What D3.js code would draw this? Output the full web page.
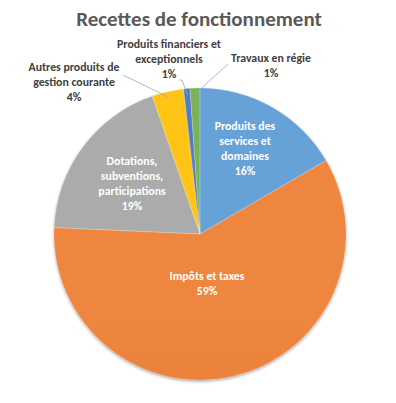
<!DOCTYPE html>
<html>
<head>
<meta charset="utf-8">
<script src="https://cdn.jsdelivr.net/npm/d3@7"></script>
<style>
  body { margin: 0; background: #fff; }
  svg { display: block; }
  text { font-family: Carlito, Lato, "Liberation Sans", sans-serif; }
</style>
</head>
<body>
<div id="chart"></div>
<script>
// DATA
var categories = ['Produits des services et domaines', 'Impôts et taxes', 'Dotations, subventions, participations',
	'Autres produits de gestion courante', 'Produits financiers et exceptionnels', 'Travaux en régie'];
var values = [16.6, 59.1, 19.0, 3.5, 0.7, 1.1];
var pctLabels = ['16%', '59%', '19%', '4%', '1%', '1%'];
// label lines (how the text wraps)
var labelLines = [
	['Produits des', 'services et', 'domaines'],
	['Impôts et taxes'],
	['Dotations,', 'subventions,', 'participations'],
	['Autres produits de', 'gestion courante'],
	['Produits financiers et', 'exceptionnels'],
	['Travaux en régie']
];
var colors = ['#5B9BD5', '#ED7D31', '#A5A5A5', '#FFC000', '#4472C4', '#70AD47'];

// BOUNDS
var width = 396, height = 403;
var cx = 200, cy = 234, radius = 146;

var svg = d3.select('#chart').append('svg')
	.attr('width', width)
	.attr('height', height);

var defs = svg.append('defs');

// shadow
var shadow = defs.append('filter').attr('id', 'shadow')
	.attr('x', '-10%').attr('y', '-10%').attr('width', '120%').attr('height', '120%');
shadow.append('feDropShadow')
	.attr('dx', 0).attr('dy', 1.5)
	.attr('stdDeviation', 1.8)
	.attr('flood-color', '#000')
	.attr('flood-opacity', 0.35);

// gradient per slice (a bit lighter top, darker bottom)
colors.forEach(function(c, i) {
	var g = defs.append('linearGradient').attr('id', 'grad' + i)
		.attr('gradientUnits', 'userSpaceOnUse')
		.attr('x1', 0).attr('y1', cy - radius).attr('x2', 0).attr('y2', cy + radius);
	g.append('stop').attr('offset', '0%').attr('stop-color', d3.interpolateRgb(c, '#fff')(0.07));
	g.append('stop').attr('offset', '100%').attr('stop-color', d3.interpolateRgb(c, '#000')(0.07));
});

// TITLE
svg.append('text')
	.attr('x', 199)
	.attr('y', 26)
	.attr('text-anchor', 'middle')
	.style('font-size', '21px')
	.style('font-weight', 'bold')
	.style('fill', '#595959')
	.text('Recettes de fonctionnement');

var pie = d3.pie().sort(null).value(function(d) { return d; });
var arc = d3.arc().innerRadius(0).outerRadius(radius);
var arcs = pie(values);

var pieG = svg.append('g')
	.attr('transform', 'translate(' + cx + ',' + cy + ')');

pieG.append('g')
	.attr('filter', 'url(#shadow)')
	.selectAll('path')
	.data(arcs)
	.enter().append('path')
	.attr('d', arc)
	.attr('fill', function(d, i) { return 'url(#grad' + i + ')'; });

// thin white separators
pieG.append('g').selectAll('path')
	.data(arcs)
	.enter().append('path')
	.attr('d', arc)
	.attr('fill', 'none')
	.attr('stroke', 'rgba(255,255,255,0.35)')
	.attr('stroke-width', 0.5);

// LABELS (positions relative to the pie centre)
var labelPos = [
	{x: 45, y: -104, inside: true},
	{x: 7, y: 46, inside: true},
	{x: -68, y: -69, inside: true},
	{x: -126, y: -163, inside: false},
	{x: -31, y: -186, inside: false},
	{x: 71, y: -172, inside: false}
];
var lineH = 15;

arcs.forEach(function(d, i) {
	var p = labelPos[i];
	var lines = labelLines[i].concat([pctLabels[i]]);
	var t = pieG.append('text')
		.attr('text-anchor', 'middle')
		.style('font-size', '11.8px')
		.style('font-weight', 'bold')
		.style('fill', p.inside ? '#fff' : '#404040');
	lines.forEach(function(l, j) {
		t.append('tspan')
			.attr('x', p.x)
			.attr('y', p.y + j * lineH)
			.text(l);
	});
});

// leader lines for the small slices
var leaders = [
	{i: 3, from: [-77, -159]},
	{i: 4, from: [-21, -154]},
	{i: 5, from: [28, -170]}
];
var outerArc = d3.arc().innerRadius(radius * 0.96).outerRadius(radius * 0.96);
leaders.forEach(function(l) {
	var end = outerArc.centroid(arcs[l.i]);
	var pts = [l.from, end];
	if (l.i == 4) pts = [l.from, [l.from[0] + 3, l.from[1]], end];
	pieG.append('path')
		.attr('d', d3.line()(pts))
		.attr('fill', 'none')
		.attr('stroke', '#A6A6A6')
		.attr('stroke-width', 0.8);
});
</script>
</body>
</html>
